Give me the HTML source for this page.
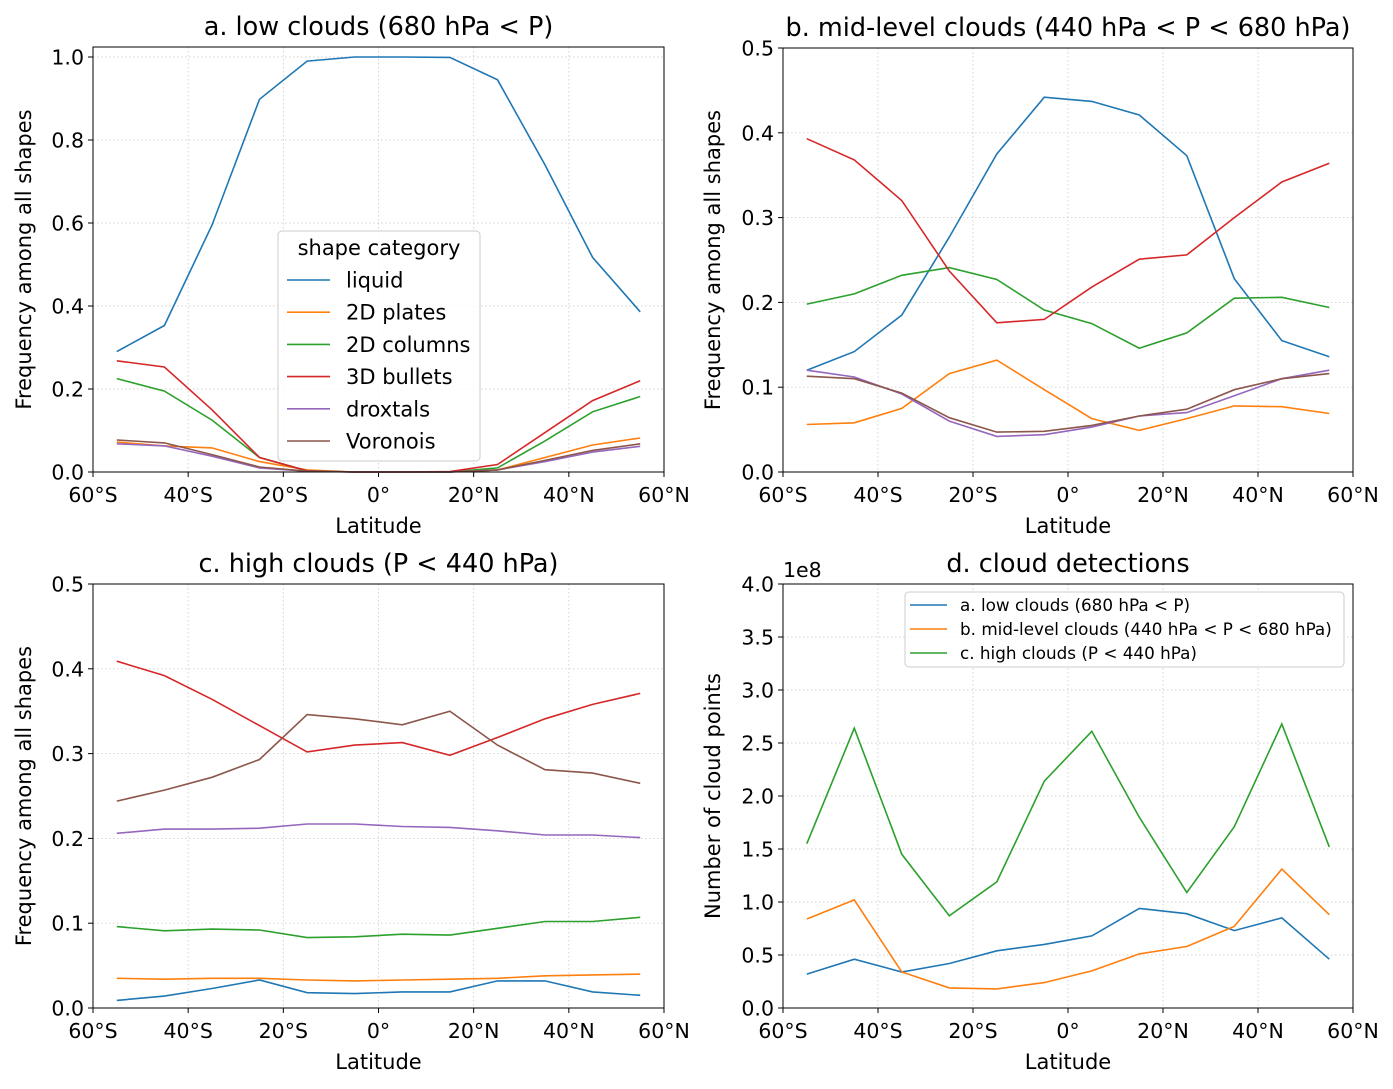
<!DOCTYPE html>
<html><head><meta charset="utf-8">
<style>
body{margin:0;background:#fff;}
svg text{font-family:"DejaVu Sans","Liberation Sans",sans-serif;fill:#000;}
</style></head>
<body>
<svg id="chart" xmlns="http://www.w3.org/2000/svg" width="1393" height="1084" viewBox="0 0 1393 1084"></svg>
<script>
const lats = [-55,-45,-35,-25,-15,-5,5,15,25,35,45,55];
const seriesNames = ["liquid","2D plates","2D columns","3D bullets","droxtals","Voronois"];
const colors = ["#1f77b4","#ff7f0e","#2ca02c","#d62728","#9467bd","#8c564b"];
const lowLiquid=[0.29,0.353,0.595,0.898,0.99,1.0,1.0,0.999,0.945,0.74,0.517,0.386];
const lowPlates=[0.072,0.063,0.058,0.025,0.005,0,0,0,0.005,0.035,0.065,0.082];
const lowColumns=[0.225,0.195,0.125,0.035,0.003,0,0,0,0.01,0.075,0.145,0.182];
const lowBullets=[0.268,0.253,0.15,0.035,0.003,0,0,0.001,0.018,0.095,0.172,0.22];
const lowDroxtals=[0.068,0.063,0.038,0.01,0.002,0,0,0,0.005,0.025,0.048,0.062];
const lowVoronoi=[0.077,0.07,0.042,0.012,0.002,0,0,0,0.005,0.028,0.052,0.068];
const midLiquid=[0.12,0.142,0.185,0.277,0.375,0.442,0.437,0.421,0.373,0.228,0.155,0.136];
const midPlates=[0.056,0.058,0.075,0.116,0.132,0.097,0.063,0.049,0.063,0.078,0.077,0.069];
const midColumns=[0.198,0.21,0.232,0.241,0.227,0.191,0.175,0.146,0.164,0.205,0.206,0.194];
const midBullets=[0.393,0.368,0.32,0.237,0.176,0.18,0.218,0.251,0.256,0.3,0.342,0.364];
const midDroxtals=[0.12,0.112,0.092,0.06,0.042,0.044,0.053,0.066,0.07,0.09,0.11,0.12];
const midVoronoi=[0.113,0.11,0.093,0.064,0.047,0.048,0.055,0.066,0.074,0.097,0.11,0.116];
const highLiquid=[0.009,0.014,0.023,0.033,0.018,0.017,0.019,0.019,0.032,0.032,0.019,0.015];
const highPlates=[0.035,0.034,0.035,0.035,0.033,0.032,0.033,0.034,0.035,0.038,0.039,0.04];
const highColumns=[0.096,0.091,0.093,0.092,0.083,0.084,0.087,0.086,0.094,0.102,0.102,0.107];
const highBullets=[0.409,0.392,0.364,0.333,0.302,0.31,0.313,0.298,0.319,0.341,0.358,0.371];
const highDroxtals=[0.206,0.211,0.211,0.212,0.217,0.217,0.214,0.213,0.209,0.204,0.204,0.201];
const highVoronoi=[0.244,0.257,0.272,0.293,0.346,0.341,0.334,0.35,0.31,0.281,0.277,0.265];
const detLow=[0.32,0.46,0.34,0.42,0.54,0.6,0.68,0.94,0.89,0.73,0.85,0.46];
const detMid=[0.84,1.02,0.34,0.19,0.18,0.24,0.35,0.51,0.58,0.77,1.31,0.88];
const detHigh=[1.55,2.64,1.45,0.87,1.19,2.14,2.61,1.8,1.09,1.71,2.68,1.52];
const xTicks=[-60,-40,-20,0,20,40,60];
const xTickLabels=["60°S","40°S","20°S","0°","20°N","40°N","60°N"];
const yTicksA=[0,0.2,0.4,0.6,0.8,1.0];
const yTicksB=[0,0.1,0.2,0.3,0.4,0.5];
const yTicksD=[0,0.5,1,1.5,2,2.5,3,3.5,4];
const detNames=["a. low clouds (680 hPa < P)","b. mid-level clouds (440 hPa < P < 680 hPa)","c. high clouds (P < 440 hPa)"];

const svg=document.getElementById('chart');
const NS="http://www.w3.org/2000/svg";
function mk(tag,attrs,parent){const e=document.createElementNS(NS,tag);for(const k in attrs)e.setAttribute(k,attrs[k]);(parent||svg).appendChild(e);return e;}

function panel(p){
  const g=mk('g',{});
  
  
  const sx=v=>p.x0+(v+60)/120*(p.x1-p.x0);
  const sy=v=>p.y0-(v-p.ymin)/(p.yref-p.ymin)*(p.y0-p.yrefPx);
  xTicks.forEach((t,i)=>{
    const gl=mk('line',{x1:sx(t),x2:sx(t),y1:p.top,y2:p.y0,stroke:'#d0d0d0','stroke-width':0.9,'stroke-dasharray':'1.5,2.5'},g);
    
    mk('line',{x1:sx(t),x2:sx(t),y1:p.y0,y2:p.y0+5,stroke:'#000','stroke-width':1},g);
    const tx=mk('text',{x:sx(t),y:p.y0+30,'text-anchor':'middle','font-size':20.5},g);
    tx.textContent=xTickLabels[i];
    
  });
  p.yt.forEach(t=>{
    const y=sy(t);
    mk('line',{x1:p.x0,x2:p.x1,y1:y,y2:y,stroke:'#d0d0d0','stroke-width':0.9,'stroke-dasharray':'1.5,2.5'},g);
    mk('line',{x1:p.x0-5,x2:p.x0,y1:y,y2:y,stroke:'#000','stroke-width':1},g);
    const tx=mk('text',{x:p.x0-9,y:y+7.5,'text-anchor':'end','font-size':20.5},g);
    tx.textContent=t.toFixed(1);
    
  });
  p.series.forEach((s,i)=>{
    const pts=s.map((v,j)=>sx(lats[j]).toFixed(1)+','+sy(v).toFixed(1)).join(' ');
    const pl=mk('polyline',{points:pts,fill:'none',stroke:p.colors[i],'stroke-width':1.6},g);
    
    
  });
  mk('rect',{x:p.x0,y:p.top,width:p.x1-p.x0,height:p.y0-p.top,fill:'none',stroke:'#000','stroke-width':1},g);
  const tt=mk('text',{x:(p.x0+p.x1)/2,y:p.top-12,'text-anchor':'middle','font-size':25.5},g);
  tt.textContent=p.title;
  const xl=mk('text',{x:(p.x0+p.x1)/2,y:p.y0+61,'text-anchor':'middle','font-size':21},g);
  xl.textContent='Latitude';
  const cy=(p.top+p.y0)/2;
  const yl=mk('text',{x:p.ylx,y:cy,'text-anchor':'middle','font-size':21,transform:`rotate(-90 ${p.ylx} ${cy})`},g);
  yl.textContent=p.ylabel;
  return g;
}
const ylab='Frequency among all shapes';
panel({name:'panel-a-low-clouds',x0:93,x1:664,top:47,y0:472,ymin:0,yref:1.0,yrefPx:57,yt:yTicksA,title:'a. low clouds (680 hPa < P)',ylabel:ylab,ylx:31,
  series:[lowLiquid,lowPlates,lowColumns,lowBullets,lowDroxtals,lowVoronoi],colors:colors,labels:seriesNames});
panel({name:'panel-b-mid-clouds',x0:783,x1:1353,top:48,y0:472,ymin:0,yref:0.5,yrefPx:48,yt:yTicksB,title:'b. mid-level clouds (440 hPa < P < 680 hPa)',ylabel:ylab,ylx:720,
  series:[midLiquid,midPlates,midColumns,midBullets,midDroxtals,midVoronoi],colors:colors,labels:seriesNames});
panel({name:'panel-c-high-clouds',x0:93,x1:664,top:584,y0:1008,ymin:0,yref:0.5,yrefPx:584,yt:yTicksB,title:'c. high clouds (P < 440 hPa)',ylabel:ylab,ylx:31,
  series:[highLiquid,highPlates,highColumns,highBullets,highDroxtals,highVoronoi],colors:colors,labels:seriesNames});
panel({name:'panel-d-detections',x0:783,x1:1353,top:584,y0:1008,ymin:0,yref:4.0,yrefPx:584,yt:yTicksD,title:'d. cloud detections',ylabel:'Number of cloud points',ylx:720,
  series:[detLow,detMid,detHigh],colors:colors.slice(0,3),labels:detNames});
const off=mk('text',{x:783,y:577,'font-size':20.5});off.textContent='1e8';


const la=mk('g',{});

mk('rect',{x:278,y:231,width:202,height:230,rx:4,fill:'#fff','fill-opacity':0.8,stroke:'#ccc'},la);
const lt=mk('text',{x:379,y:255,'text-anchor':'middle','font-size':21},la);lt.textContent='shape category';
seriesNames.forEach((n,i)=>{
  const y=280+i*32.2;
  const e=mk('g',{},la);
  
  mk('line',{x1:287,x2:330,y1:y,y2:y,stroke:colors[i],'stroke-width':1.6},e);
  const t=mk('text',{x:346,y:y+7.5,'font-size':21},e);t.textContent=n;
});
const ld=mk('g',{});

mk('rect',{x:905,y:592,width:439,height:75,rx:4,fill:'#fff','fill-opacity':0.8,stroke:'#ccc'},ld);
detNames.forEach((n,i)=>{
  const y=605+i*24;
  const e=mk('g',{},ld);
  
  mk('line',{x1:910,x2:947,y1:y,y2:y,stroke:colors[i],'stroke-width':1.6},e);
  const t=mk('text',{x:960,y:y+6,'font-size':16.8},e);t.textContent=n;
});
</script>
</body></html>
